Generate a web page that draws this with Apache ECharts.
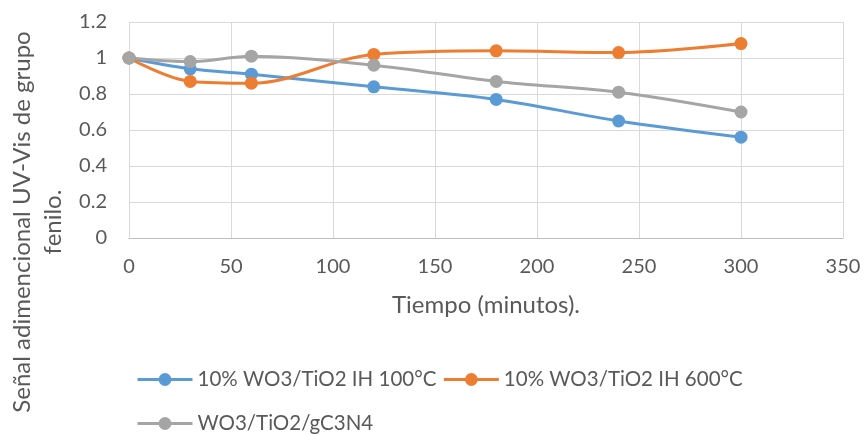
<!DOCTYPE html>
<html><head><meta charset="utf-8">
<script src="https://cdn.jsdelivr.net/npm/echarts@6/dist/echarts.min.js"></script>
<style>html,body{margin:0;padding:0;background:#fff}#c{width:867px;height:435px}</style>
</head><body><div id="c"></div>
<script>
const times = [0, 30, 60, 120, 180, 240, 300];
const seriesNames = ['10% WO3/TiO2 IH 100°C', '10% WO3/TiO2 IH 600°C', 'WO3/TiO2/gC3N4'];
const ih100 = [1, 0.94, 0.91, 0.84, 0.77, 0.65, 0.56];
const ih600 = [1, 0.87, 0.86, 1.02, 1.04, 1.03, 1.08];
const gc3n4 = [1, 0.98, 1.01, 0.96, 0.87, 0.81, 0.70];
const xTitle = 'Tiempo (minutos).';
const yTitle = 'Señal adimencional UV-Vis de grupo\nfenilo.';
const colors = ['#5b9bd5', '#ed7d31', '#a5a5a5'];
const font = 'Lato, "Open Sans", sans-serif';
const txt = '#595959';

function mk(name, vals, color) {
  return {
    name: name, type: 'line', smooth: 0.35,
    data: times.map((t, i) => [t, vals[i]]),
    symbol: 'circle', symbolSize: 13,
    lineStyle: {width: 3, color: color},
    itemStyle: {color: color}
  };
}
const legendCommon = {
  orient: 'horizontal', itemWidth: 55, itemHeight: 16, itemGap: 6,
  lineStyle: {width: 3},
  textStyle: {fontFamily: font, fontSize: 20.5, color: txt, padding: [0, 0, 0, 0]}
};
const chart = echarts.init(document.getElementById('c'), null, {renderer: 'canvas'});
chart.setOption({
  animation: false,
  color: colors,
  grid: {left: 129, right: 24, top: 22, bottom: 197},
  xAxis: {
    type: 'value', min: 0, max: 350, interval: 50,
    name: xTitle, nameLocation: 'middle', nameGap: 55,
    nameTextStyle: {fontFamily: font, fontSize: 24, color: txt},
    axisLine: {show: true, lineStyle: {color: '#bfbfbf', width: 1}},
    axisTick: {show: false},
    axisLabel: {fontFamily: font, fontSize: 20, color: txt, margin: 19},
    splitLine: {show: true, lineStyle: {color: '#d9d9d9', width: 1}}
  },
  yAxis: {
    type: 'value', min: 0, max: 1.2, interval: 0.2,
    axisLine: {show: false},
    axisTick: {show: false},
    axisLabel: {fontFamily: font, fontSize: 20, color: txt, margin: 22},
    splitLine: {show: true, lineStyle: {color: '#d9d9d9', width: 1}}
  },
  legend: [
    Object.assign({data: seriesNames.slice(0, 2), left: 131, top: 364}, legendCommon),
    Object.assign({data: seriesNames.slice(2), left: 131, top: 408}, legendCommon)
  ],
  graphic: [{
    type: 'text', x: 38, y: 222, rotation: Math.PI / 2,
    style: {text: yTitle, fontFamily: font, fontSize: 24, fill: txt,
      textAlign: 'center', textVerticalAlign: 'middle', lineHeight: 31}
  }],
  series: [mk(seriesNames[0], ih100, colors[0]), mk(seriesNames[1], ih600, colors[1]), mk(seriesNames[2], gc3n4, colors[2])]
});
</script></body></html>
